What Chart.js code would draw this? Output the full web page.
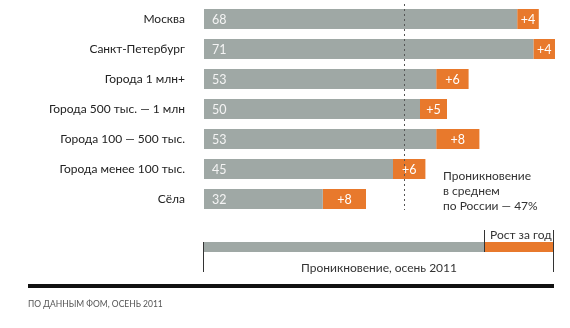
<!DOCTYPE html>
<html><head><meta charset="utf-8">
<script src="https://cdn.jsdelivr.net/npm/chart.js@4/dist/chart.umd.min.js"></script>
<style>html,body{margin:0;padding:0;background:#fff}#w{width:570px;height:328px}</style>
</head><body><div id="w"><canvas id="c"></canvas></div>
<script>
const categories = ['Москва','Санкт-Петербург','Города 1 млн+','Города 500 тыс. — 1 млн','Города 100 — 500 тыс.','Города менее 100 тыс.','Сёла'];
const penetration2011 = [68,71,53,50,53,45,32];
const growthYear = [4,4,6,5,8,6,8];
const russiaAverage = 47;
const annotationLines = ['Проникновение','в среднем','по России — 47%'];
const legendLabels = {growth:'Рост за год', base:'Проникновение, осень 2011'};
const sourceText = 'ПО ДАННЫМ ФОМ, ОСЕНЬ 2011';

const GRAY = '#9fa8a5', ORANGE = '#e8792c', FONT = 'Lato, "Open Sans", sans-serif';

const extras = {
  id: 'extras',
  afterDatasetsDraw(chart) {
    const ctx = chart.ctx, x = chart.scales.x, area = chart.chartArea;
    ctx.save();
    const ax = Math.round(x.getPixelForValue(russiaAverage)) + 0.5;
    ctx.strokeStyle = '#555'; ctx.lineWidth = 1; ctx.setLineDash([2,3]);
    ctx.beginPath(); ctx.moveTo(ax, area.top); ctx.lineTo(ax, area.bottom - 4); ctx.stroke();
    ctx.setLineDash([]);
    ctx.fillStyle = '#333'; ctx.font = '12px ' + FONT; ctx.textAlign = 'left'; ctx.textBaseline = 'middle';
    const ly = [176, 191, 206];
    annotationLines.forEach((t, i) => ctx.fillText(t, 443, ly[i]));
    const m0 = chart.getDatasetMeta(0), m1 = chart.getDatasetMeta(1);
    ctx.font = '12.5px ' + FONT;
    m0.data.forEach((b, i) => {
      ctx.fillStyle = '#f4f4f4'; ctx.textAlign = 'left';
      ctx.fillText(String(penetration2011[i]), area.left + 8, b.y + 1);
    });
    m1.data.forEach((b, i) => {
      ctx.fillStyle = '#fff'; ctx.textAlign = 'center';
      ctx.fillText('+' + growthYear[i], (b.base + b.x) / 2, b.y + 1);
    });
    const L = 203, M = 484, R = 554;
    ctx.fillStyle = GRAY; ctx.fillRect(L, 242, M - L, 10);
    ctx.fillStyle = ORANGE; ctx.fillRect(M, 242, R - M, 10);
    ctx.strokeStyle = '#333'; ctx.lineWidth = 1;
    ctx.beginPath();
    ctx.moveTo(L + 0.5, 242); ctx.lineTo(L + 0.5, 272);
    ctx.moveTo(R - 0.5, 230); ctx.lineTo(R - 0.5, 272);
    ctx.moveTo(M + 0.5, 230); ctx.lineTo(M + 0.5, 252);
    ctx.stroke();
    ctx.fillStyle = '#333'; ctx.font = '12px ' + FONT; ctx.textAlign = 'left';
    ctx.fillText(legendLabels.growth, 490, 235);
    ctx.textAlign = 'center';
    ctx.fillText(legendLabels.base, 379, 268);
    ctx.fillStyle = '#111'; ctx.fillRect(28, 284, R - 28, 4);
    ctx.fillStyle = '#555'; ctx.font = '8.5px ' + FONT; ctx.textAlign = 'left';
    ctx.fillText(sourceText, 28, 304);
    ctx.restore();
  }
};

new Chart(document.getElementById('c'), {
  type: 'bar',
  data: {
    labels: categories,
    datasets: [
      {label: legendLabels.base, data: penetration2011, backgroundColor: GRAY, categoryPercentage: 1, barPercentage: 0.667},
      {label: legendLabels.growth, data: growthYear, backgroundColor: ORANGE, categoryPercentage: 1, barPercentage: 0.667}
    ]
  },
  options: {
    indexAxis: 'y',
    responsive: true, maintainAspectRatio: false, animation: false,
    layout: {padding: {top: 4, right: 15, bottom: 114, left: 0}},
    plugins: {legend: {display: false}, tooltip: {enabled: false}},
    scales: {
      x: {stacked: true, min: 10, max: 75, display: false},
      y: {
        stacked: true,
        grid: {display: false, drawTicks: false},
        border: {display: false},
        ticks: {color: '#222', padding: 19, font: {size: 12, family: FONT}},
        afterFit(s) { s.width = 204; s.paddingTop = 0; s.paddingBottom = 0; }
      }
    }
  },
  plugins: [extras]
});
</script>
</body></html>
